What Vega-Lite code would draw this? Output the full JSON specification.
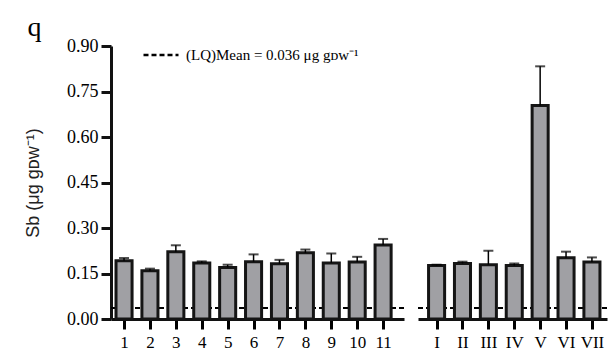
{
  "$schema": "https://vega.github.io/schema/vega-lite/v6.json",
  "padding": {"left": 24, "top": 14, "right": 0, "bottom": 5},
  "title": {
    "text": "q",
    "anchor": "start",
    "frame": "bounds",
    "font": "Liberation Serif",
    "fontSize": 28,
    "fontWeight": "normal",
    "color": "black",
    "dx": 3,
    "offset": -6
  },
  "datasets": {
    "sites": [
      {"site": "1", "mean": 0.192, "upper": 0.201},
      {"site": "2", "mean": 0.159, "upper": 0.166},
      {"site": "3", "mean": 0.222, "upper": 0.243},
      {"site": "4", "mean": 0.185, "upper": 0.190},
      {"site": "5", "mean": 0.170, "upper": 0.179},
      {"site": "6", "mean": 0.189, "upper": 0.213},
      {"site": "7", "mean": 0.182, "upper": 0.195},
      {"site": "8", "mean": 0.218, "upper": 0.229},
      {"site": "9", "mean": 0.185, "upper": 0.216},
      {"site": "10", "mean": 0.188, "upper": 0.205},
      {"site": "11", "mean": 0.244, "upper": 0.264}
    ],
    "zones": [
      {"site": "I", "mean": 0.176, "upper": 0.179},
      {"site": "II", "mean": 0.183, "upper": 0.189},
      {"site": "III", "mean": 0.179, "upper": 0.225},
      {"site": "IV", "mean": 0.176, "upper": 0.183},
      {"site": "V", "mean": 0.704, "upper": 0.833},
      {"site": "VI", "mean": 0.202, "upper": 0.222},
      {"site": "VII", "mean": 0.188, "upper": 0.203}
    ],
    "limit": [
      {"lq": 0.036, "series": "(LQ)Mean = 0.036 μg gᴅᴡ⁻¹"}
    ]
  },
  "spacing": 12,
  "hconcat": [
    {
      "width": 293,
      "height": 273,
      "layer": [
        {
          "data": {"name": "limit"},
          "mark": {"type": "rule", "color": "black", "strokeWidth": 2},
          "encoding": {
            "y": {"field": "lq", "type": "quantitative", "scale": {"domain": [0, 0.9]}},
            "strokeDash": {
              "field": "series",
              "type": "nominal",
              "scale": {"range": [[5, 3]]},
              "legend": {
                "orient": "none",
                "legendX": 31,
                "legendY": -10,
                "title": null,
                "symbolType": "stroke",
                "symbolSize": 1225,
                "symbolStrokeWidth": 2.5,
                "symbolStrokeColor": "black",
                "labelFont": "Liberation Serif",
                "labelFontSize": 15,
                "labelColor": "black",
                "labelLimit": 400,
                "labelOffset": 6
              }
            }
          }
        },
        {
          "data": {"name": "sites"},
          "mark": {"type": "bar", "fill": "#a0a0a4", "stroke": "#151515", "strokeWidth": 3},
          "encoding": {
            "x": {
              "field": "site",
              "type": "ordinal",
              "sort": null,
              "scale": {"paddingInner": 0.38, "paddingOuter": 0.345, "align": 0.28},
              "axis": {
                "title": null,
                "labelAngle": 0,
                "labelAlign": "center",
                "labelPadding": 5,
                "ticks": true,
                "bandPosition": 0.5,
                "tickExtra": false,
                "tickOffset": 0,
                "tickColor": "black",
                "tickWidth": 3,
                "tickSize": 10,
                "tickOpacity": 1
              }
            },
            "y": {
              "field": "mean",
              "type": "quantitative",
              "scale": {"domain": [0, 0.9]},
              "axis": {
                "title": "Sb (μg gᴅᴡ⁻¹)",
                "values": [0, 0.15, 0.3, 0.45, 0.6, 0.75, 0.9],
                "format": ".2f",
                "labelFont": "Liberation Serif",
                "labelFontSize": 18,
                "titleFont": "Liberation Sans",
                "titleFontSize": 18,
                "titleFontWeight": "normal",
                "titleColor": "#222",
                "titlePadding": 24
              }
            }
          }
        },
        {
          "data": {"name": "sites"},
          "mark": {"type": "rule", "color": "black", "strokeWidth": 1.5},
          "encoding": {
            "x": {"field": "site", "type": "ordinal", "sort": null},
            "y": {"field": "mean", "type": "quantitative"},
            "y2": {"field": "upper"}
          }
        },
        {
          "data": {"name": "sites"},
          "mark": {"type": "tick", "color": "black", "thickness": 2, "size": 10, "orient": "horizontal"},
          "encoding": {
            "x": {"field": "site", "type": "ordinal", "sort": null},
            "y": {"field": "upper", "type": "quantitative"}
          }
        }
      ]
    },
    {
      "width": 189,
      "height": 273,
      "layer": [
        {
          "data": {"name": "limit"},
          "mark": {"type": "rule", "color": "black", "strokeWidth": 2, "strokeDash": [5, 3]},
          "encoding": {
            "y": {"field": "lq", "type": "quantitative", "scale": {"domain": [0, 0.9]}, "axis": null}
          }
        },
        {
          "data": {"name": "zones"},
          "mark": {"type": "bar", "fill": "#a0a0a4", "stroke": "#151515", "strokeWidth": 3},
          "encoding": {
            "x": {
              "field": "site",
              "type": "ordinal",
              "sort": null,
              "scale": {"paddingInner": 0.38, "paddingOuter": 0.34, "align": 0.6},
              "axis": {
                "title": null,
                "labelAngle": 0,
                "labelAlign": "center",
                "labelPadding": 5,
                "ticks": true,
                "bandPosition": 0.5,
                "tickExtra": false,
                "tickOffset": 0,
                "tickColor": "black",
                "tickWidth": 3,
                "tickSize": 10,
                "tickOpacity": 1
              }
            },
            "y": {
              "field": "mean",
              "type": "quantitative",
              "scale": {"domain": [0, 0.9]},
              "axis": null
            }
          }
        },
        {
          "data": {"name": "zones"},
          "mark": {"type": "rule", "color": "black", "strokeWidth": 1.5},
          "encoding": {
            "x": {"field": "site", "type": "ordinal", "sort": null},
            "y": {"field": "mean", "type": "quantitative", "axis": null},
            "y2": {"field": "upper"}
          }
        },
        {
          "data": {"name": "zones"},
          "mark": {"type": "tick", "color": "black", "thickness": 2, "size": 10, "orient": "horizontal"},
          "encoding": {
            "x": {"field": "site", "type": "ordinal", "sort": null},
            "y": {"field": "upper", "type": "quantitative", "axis": null}
          }
        }
      ]
    }
  ],
  "config": {
    "view": {"stroke": null},
    "background": "white",
    "axis": {
      "grid": false,
      "domainColor": "#111",
      "domainWidth": 3,
      "tickColor": "#111",
      "tickWidth": 3,
      "tickSize": 10,
      "labelColor": "black",
      "labelFont": "Liberation Serif",
      "labelFontSize": 17,
      "labelPadding": 3
    }
  }
}
